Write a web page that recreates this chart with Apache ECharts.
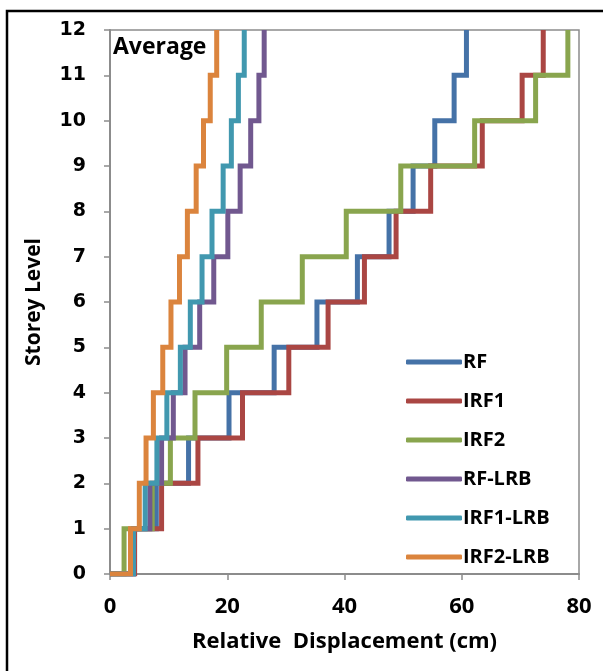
<!DOCTYPE html>
<html>
<head>
<meta charset="utf-8">
<script src="https://cdn.jsdelivr.net/npm/echarts@6/dist/echarts.min.js"></script>
<style>
  html, body { margin: 0; padding: 0; background: #fff; }
  #chart { width: 603px; height: 671px; }
</style>
</head>
<body>
<div id="chart"></div>
<script>
// storey levels 0..12, displacement where each storey step rises (cm)
const levels = [0, 1, 2, 3, 4, 5, 6, 7, 8, 9, 10, 11, 12]
const seriesNames = ['RF', 'IRF1', 'IRF2', 'RF-LRB', 'IRF1-LRB', 'IRF2-LRB']
const rf      = [4.0, 7.9, 13.4, 20.3, 28.0, 35.3, 42.2, 47.6, 51.7, 55.4, 58.7, 60.8]
const irf1    = [4.2, 8.8, 15.0, 22.6, 30.5, 37.2, 43.4, 48.8, 54.7, 63.5, 70.3, 73.9]
const irf2    = [2.4, 7.2, 10.3, 14.5, 19.9, 25.8, 32.8, 40.3, 49.6, 62.2, 72.6, 78.1]
const rfLrb   = [4.0, 6.8, 8.8, 10.8, 12.8, 15.3, 17.7, 20.1, 22.2, 24.0, 25.4, 26.3]
const irf1Lrb = [4.0, 6.0, 8.0, 9.7, 12.0, 13.7, 15.7, 17.4, 19.3, 20.7, 21.9, 22.9]
const irf2Lrb = [3.5, 5.0, 6.15, 7.4, 9.0, 10.4, 11.85, 13.2, 14.7, 15.95, 17.1, 18.2]
const xTicks = [0, 20, 40, 60, 80]
const colors = ['#4572A7', '#AA4643', '#89A54E', '#71588F', '#4198AF', '#DB843D']

const allData = [rf, irf1, irf2, rfLrb, irf1Lrb, irf2Lrb]

// start at (0,0), then each rise sits at its displacement
const toPoints = (vals) => {
  const pts = [[0, levels[0]]]
  vals.forEach((v, i) => pts.push([v, levels[i + 1]]))
  return pts
}

const chart = echarts.init(document.getElementById('chart'), null, { renderer: 'canvas' })

chart.setOption({
  animation: false,
  color: colors,
  graphic: [
    {
      type: 'rect',
      shape: { x: 7, y: 11, width: 700, height: 800 },
      style: { fill: 'none', stroke: '#000', lineWidth: 2.5 },
      z: 0
    },
    {
      type: 'text',
      left: 113,
      top: 36,
      style: { text: 'Average', font: 'bold 23px "Open Sans"', fill: '#000' },
      z: 10
    }
  ],
  grid: {
    left: 110,
    right: 24,
    top: 30,
    bottom: 97,
    show: true,
    borderColor: '#8c8c8c',
    borderWidth: 1.5,
    backgroundColor: 'transparent'
  },
  legend: {
    orient: 'vertical',
    left: 401,
    top: 346,
    itemWidth: 56,
    itemHeight: 5,
    itemGap: 17,
    icon: 'roundRect',
    textStyle: { fontFamily: 'Open Sans', fontWeight: 'bold', fontSize: 20, color: '#000', lineHeight: 22, padding: [0, 0, 0, -4] },
    data: seriesNames
  },
  xAxis: {
    type: 'value',
    min: 0,
    max: 80,
    interval: 20,
    name: 'Relative  Displacement (cm)',
    nameLocation: 'middle',
    nameGap: 57,
    nameTextStyle: { fontFamily: 'Open Sans', fontWeight: 'bold', fontSize: 22, color: '#000' },
    axisLine: { show: true, lineStyle: { color: '#8c8c8c', width: 2 } },
    axisTick: { show: true, length: 6, lineStyle: { color: '#8c8c8c', width: 1.5 } },
    axisLabel: {
      margin: 22,
      fontFamily: 'Open Sans',
      fontWeight: 'bold',
      fontSize: 22,
      color: '#000',
      formatter: (v) => xTicks.includes(v) ? String(v) : ''
    },
    splitLine: { show: false }
  },
  yAxis: {
    type: 'value',
    min: 0,
    max: 12,
    interval: 1,
    name: 'Storey Level',
    nameLocation: 'middle',
    nameGap: 65,
    nameTextStyle: { fontFamily: 'Open Sans', fontWeight: 'bold', fontSize: 21, color: '#000' },
    axisLine: { show: true, lineStyle: { color: '#8c8c8c', width: 2 } },
    axisTick: { show: true, length: 6, lineStyle: { color: '#8c8c8c', width: 1.5 } },
    axisLabel: {
      margin: 24,
      fontFamily: 'DejaVu Sans',
      fontWeight: 'bold',
      fontSize: 19,
      color: '#000'
    },
    splitLine: { show: false }
  },
  series: allData.map((vals, i) => ({
    name: seriesNames[i],
    type: 'line',
    step: 'end',
    symbol: 'none',
    data: toPoints(vals),
    lineStyle: { width: 5, color: colors[i], join: 'miter' },
    itemStyle: { color: colors[i] },
    z: 2 + i
  }))
})
</script>
</body>
</html>
